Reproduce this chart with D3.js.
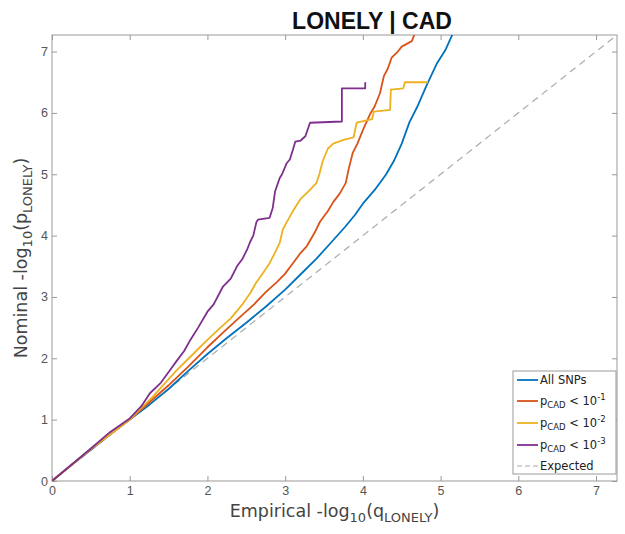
<!DOCTYPE html>
<html>
<head>
<meta charset="utf-8">
<script src="https://cdn.jsdelivr.net/npm/d3@7"></script>
<style>
  body { margin: 0; background: #fff; }
  svg { display: block; }
</style>
</head>
<body>
<script>
// QQ curves: [empirical, nominal] pairs
const allSnps = [[0,0],[0.25,0.26],[0.5,0.51],[0.75,0.76],[1,1.0],[1.25,1.24],[1.5,1.5],[1.75,1.79],[2.0,2.07],[2.25,2.33],[2.5,2.58],[2.75,2.84],[3.0,3.12],[3.2,3.37],[3.4,3.62],[3.6,3.9],[3.77,4.14],[3.9,4.34],[4.0,4.52],[4.15,4.74],[4.3,5.0],[4.4,5.22],[4.5,5.5],[4.6,5.85],[4.7,6.1],[4.82,6.45],[4.95,6.8],[5.06,7.02],[5.16,7.3]];
const pCad1 = [[0,0],[0.5,0.52],[1,1.0],[1.25,1.28],[1.5,1.56],[1.75,1.86],[2.0,2.18],[2.2,2.42],[2.4,2.65],[2.6,2.88],[2.75,3.08],[2.9,3.25],[3.0,3.38],[3.1,3.55],[3.2,3.72],[3.28,3.83],[3.38,4.05],[3.45,4.23],[3.55,4.4],[3.62,4.55],[3.7,4.68],[3.78,4.86],[3.82,5.1],[3.87,5.35],[3.93,5.5],[4.0,5.72],[4.1,6.0],[4.15,6.1],[4.22,6.32],[4.27,6.6],[4.32,6.72],[4.37,6.9],[4.45,7.0],[4.5,7.08],[4.63,7.17],[4.67,7.3]];
const pCad2 = [[0,0],[0.5,0.52],[1,1.0],[1.3,1.38],[1.6,1.8],[1.8,2.05],[2.0,2.3],[2.15,2.48],[2.3,2.65],[2.45,2.88],[2.55,3.06],[2.62,3.22],[2.72,3.4],[2.8,3.55],[2.88,3.75],[2.93,3.88],[2.97,4.1],[3.02,4.22],[3.1,4.4],[3.2,4.6],[3.3,4.72],[3.4,4.85],[3.44,5.0],[3.48,5.2],[3.55,5.42],[3.62,5.5],[3.75,5.56],[3.88,5.6],[3.92,5.84],[4.12,5.9],[4.14,6.02],[4.35,6.05],[4.36,6.38],[4.52,6.4],[4.54,6.5],[4.84,6.5]];
const pCad3 = [[0,0],[0.5,0.53],[0.75,0.8],[1,1.02],[1.15,1.22],[1.26,1.43],[1.4,1.6],[1.52,1.81],[1.6,1.95],[1.7,2.12],[1.78,2.3],[1.88,2.5],[2.0,2.76],[2.08,2.88],[2.2,3.17],[2.3,3.3],[2.38,3.5],[2.45,3.62],[2.51,3.77],[2.55,3.9],[2.59,4.0],[2.63,4.22],[2.65,4.26],[2.8,4.29],[2.84,4.45],[2.87,4.72],[2.93,4.94],[2.96,5.0],[3.02,5.18],[3.06,5.24],[3.1,5.4],[3.13,5.53],[3.2,5.55],[3.26,5.62],[3.32,5.84],[3.73,5.86],[3.73,6.4],[4.03,6.4],[4.03,6.5]];
const expected = [[0,0],[7.27,7.27]];
const ticks = [0,1,2,3,4,5,6,7];
const seriesNames = ['All SNPs','-1','-2','-3','Expected'];
const seriesColors = ['#0072BD','#D95319','#EDB120','#7E2F8E','#aaaaaa'];

const width = 625, height = 534;
const margin = {top: 35, right: 8, bottom: 53, left: 52};

const svg = d3.select('body').append('svg')
  .attr('width', width).attr('height', height)
  .attr('font-family', 'DejaVu Sans');

const x = d3.scaleLinear().domain([0, 7.27]).range([margin.left, width - margin.right]);
const y = d3.scaleLinear().domain([0, 7.27]).range([height - margin.bottom, margin.top]);

// axes with inward ticks (MATLAB style)
function styleAxis(g) {
  g.select('.domain').remove();
  g.selectAll('line').attr('stroke', '#999');
  g.selectAll('text').attr('fill', '#555').attr('font-size', 12.5);
}
svg.append('g').attr('transform', `translate(0,${y(0)})`)
  .call(d3.axisBottom(x).tickValues(ticks).tickSizeInner(-5).tickSizeOuter(0).tickPadding(5))
  .call(styleAxis);
svg.append('g').attr('transform', `translate(${x(0)},0)`)
  .call(d3.axisLeft(y).tickValues(ticks).tickSizeInner(-5).tickSizeOuter(0).tickPadding(4))
  .call(styleAxis);
svg.append('g').attr('transform', `translate(0,${y(7.27)})`)
  .call(d3.axisTop(x).tickValues(ticks).tickSizeInner(-5).tickSizeOuter(0).tickFormat(''))
  .call(styleAxis);
svg.append('g').attr('transform', `translate(${x(7.27)},0)`)
  .call(d3.axisRight(y).tickValues(ticks).tickSizeInner(-5).tickSizeOuter(0).tickFormat(''))
  .call(styleAxis);

svg.append('rect')
  .attr('x', x(0)).attr('y', y(7.27))
  .attr('width', x(7.27) - x(0)).attr('height', y(0) - y(7.27))
  .attr('fill', 'none').attr('stroke', '#999').attr('stroke-width', 1);

svg.append('clipPath').attr('id', 'plotclip').append('rect')
  .attr('x', x(0)).attr('y', y(7.27))
  .attr('width', x(7.27) - x(0)).attr('height', y(0) - y(7.27));

const line = d3.line().x(d => x(d[0])).y(d => y(d[1]));
const plot = svg.append('g').attr('clip-path', 'url(#plotclip)');

plot.append('path').datum(expected).attr('d', line)
  .attr('fill', 'none').attr('stroke', seriesColors[4]).attr('stroke-width', 1.2)
  .attr('stroke-dasharray', '7,5');

[allSnps, pCad1, pCad2, pCad3].forEach(function(s, i) {
  plot.append('path').datum(s).attr('d', line)
    .attr('fill', 'none').attr('stroke', seriesColors[i])
    .attr('stroke-width', 1.8).attr('stroke-linejoin', 'round');
});

// title
svg.append('text')
  .attr('x', 372).attr('y', 29)
  .attr('text-anchor', 'middle')
  .attr('font-family', 'Liberation Sans, Arial, sans-serif')
  .attr('font-weight', 'bold').attr('font-size', 23)
  .attr('fill', '#111')
  .text('LONELY | CAD');

// axis labels with subscripts
const xl = svg.append('text')
  .attr('x', (x(0) + x(7.27)) / 2).attr('y', 517)
  .attr('text-anchor', 'middle').attr('font-size', 17.5).attr('fill', '#444');
xl.append('tspan').text('Empirical -log');
xl.append('tspan').attr('dy', 5).attr('font-size', 13).text('10');
xl.append('tspan').attr('dy', -5).text('(q');
xl.append('tspan').attr('dy', 5).attr('font-size', 13).text('LONELY');
xl.append('tspan').attr('dy', -5).text(')');

const yl = svg.append('text')
  .attr('transform', `translate(27,${(y(0) + y(7.27)) / 2}) rotate(-90)`)
  .attr('text-anchor', 'middle').attr('font-size', 17.5).attr('fill', '#444');
yl.append('tspan').text('Nominal -log');
yl.append('tspan').attr('dy', 5).attr('font-size', 13).text('10');
yl.append('tspan').attr('dy', -5).text('(p');
yl.append('tspan').attr('dy', 5).attr('font-size', 13).text('LONELY');
yl.append('tspan').attr('dy', -5).text(')');

// legend
const lg = svg.append('g').attr('transform', 'translate(513,371)');
lg.append('rect').attr('width', 103).attr('height', 103)
  .attr('fill', '#fff').attr('stroke', '#999');
const rowY = [9, 30, 52, 74, 95];
seriesNames.forEach(function(name, i) {
  const r = lg.append('g').attr('transform', `translate(0,${rowY[i]})`);
  r.append('line').attr('x1', 4).attr('x2', 25).attr('y1', 0).attr('y2', 0)
    .attr('stroke', seriesColors[i]).attr('stroke-width', i === 4 ? 1.2 : 1.8)
    .attr('stroke-dasharray', i === 4 ? '5,3' : null);
  const t = r.append('text').attr('x', 27).attr('y', 4)
    .attr('font-size', 11.5).attr('fill', '#222');
  if (i === 0 || i === 4) {
    t.text(name);
  } else {
    t.append('tspan').text('p');
    t.append('tspan').attr('dy', 3).attr('font-size', 8.5).text('CAD');
    t.append('tspan').attr('dy', -3).text(' < 10');
    t.append('tspan').attr('dy', -5).attr('font-size', 8.5).text(name);
  }
});
</script>
</body>
</html>
